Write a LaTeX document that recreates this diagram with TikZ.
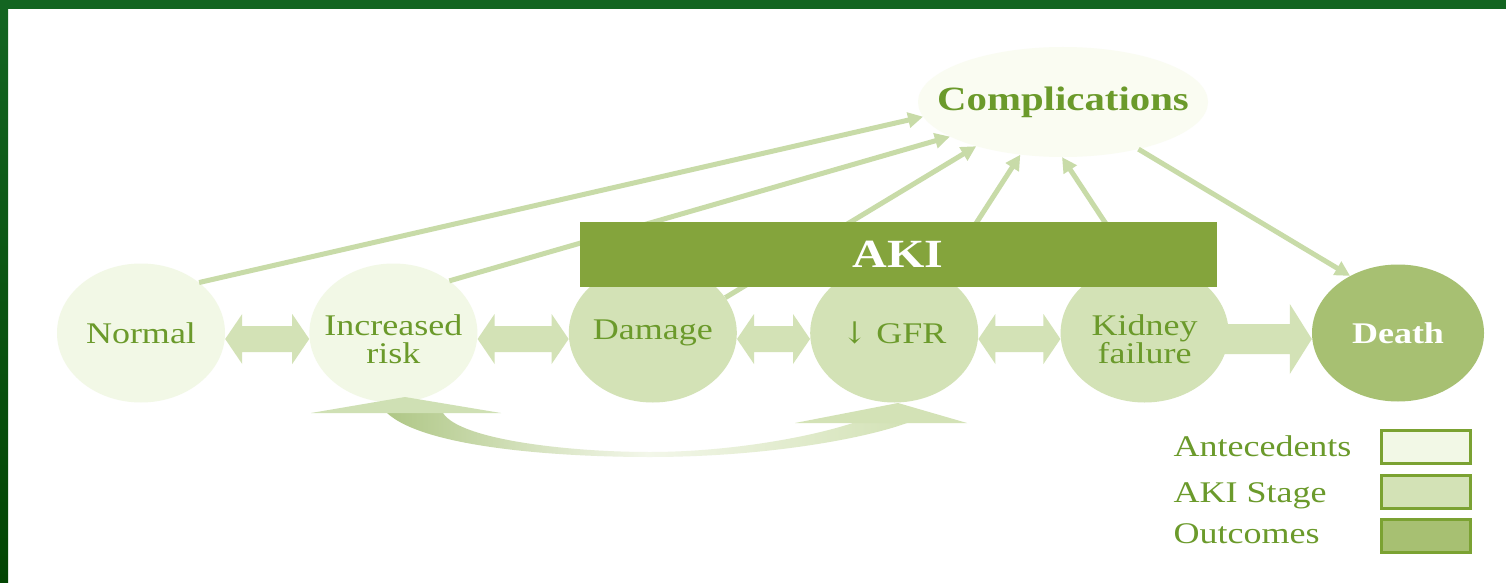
\documentclass[tikz,border=0pt]{standalone}
\usepackage{fontspec}
\setmainfont{Liberation Serif}[FakeStretch=1.2]
\newfontfamily\arrowfont{DejaVu Serif}
\usetikzlibrary{calc,arrows.meta,positioning,shapes.geometric}

\definecolor{antefill}{HTML}{F2F8E6}
\definecolor{stagefill}{HTML}{D3E2B6}
\definecolor{outfill}{HTML}{A7C072}
\definecolor{barfill}{HTML}{84A43C}
\definecolor{complfill}{HTML}{FAFCF2}
\definecolor{labelgreen}{HTML}{6B9A2B}
\definecolor{linkgreen}{HTML}{C8DBA8}
\definecolor{keyedge}{HTML}{7BA232}
\definecolor{tipfill}{HTML}{CFE0B4}
\definecolor{bandleft}{HTML}{AFC786}
\definecolor{bandmid}{HTML}{F3F7EA}
\definecolor{frametop}{HTML}{136521}
\definecolor{framebot}{HTML}{034503}

% fat double arrow between two discs
\newcommand{\dbllink}[2]{%
  \fill[stagefill] let \p1=(#1.east), \p2=(#2.west) in
    (\x1,\y1-6pt) -- (\x1+17pt,\y1+19pt) -- (\x1+17pt,\y1+7pt) -- (\x2-17pt,\y1+7pt)
    -- (\x2-17pt,\y1+19pt) -- (\x2,\y1-6pt) -- (\x2-17pt,\y1-31pt) -- (\x2-17pt,\y1-19pt)
    -- (\x1+17pt,\y1-19pt) -- (\x1+17pt,\y1-31pt) -- cycle;}
% fat single arrow
\newcommand{\onelink}[2]{%
  \fill[stagefill] let \p1=(#1.east), \p2=(#2.west) in
    (\x1-8pt,\y1+9pt) -- (\x2-22pt,\y1+9pt) -- (\x2-22pt,\y1+29pt) -- (\x2,\y1-6pt)
    -- (\x2-22pt,\y1-41pt) -- (\x2-22pt,\y1-21pt) -- (\x1-8pt,\y1-21pt) -- cycle;}

\begin{document}
\begin{tikzpicture}[
    x=1pt, y=-1pt,
    disc/.style={ellipse, inner sep=-30pt, minimum width=168pt, minimum height=139pt, align=center, text=labelgreen, font=\fontsize{30}{29}\selectfont},
    disctext/.style={align=center, text=labelgreen, font=\fontsize{30}{28}\selectfont, yshift=-6pt},
    antedisc/.style={disc, fill=antefill},
    stagedisc/.style={disc, fill=stagefill},
    outdisc/.style={disc, fill=outfill, minimum width=172pt, minimum height=137pt, text=white, font=\fontsize{30}{29}\selectfont\bfseries},
    feed/.style={draw=linkgreen, line width=5pt, -{Triangle[length=15pt,width=15pt]}},
    keybox/.style={draw=keyedge, line width=3pt, minimum width=89pt, minimum height=33pt},
    keylabel/.style={anchor=base west, text=labelgreen, font=\fontsize{30}{30}\selectfont}
]
\useasboundingbox (0,0) rectangle (1506,583);
\fill[white] (0,0) rectangle (1506,583);
% frame
\fill[frametop] (0,0) rectangle (1506,9);
\shade[top color=frametop, bottom color=framebot] (0,0) rectangle (8,583);

% discs
\node[antedisc] (normal) at (141,333) {Normal};
\node[antedisc, right=84pt of normal, label={[disctext]center:Increased\\risk}] (incr) {};
\node[stagedisc, right=91pt of incr] (dmg) {Damage};
\node[stagedisc, right=73pt of dmg] (gfr) {{\arrowfont ↓} GFR};
\node[stagedisc, right=82pt of gfr, label={[disctext]center:Kidney\\failure}] (kid) {};
\node[outdisc, right=83pt of kid] (death) {Death};

\node[ellipse, inner sep=-30pt, fill=complfill, minimum width=290pt, minimum height=110pt, text=labelgreen, font=\fontsize{34}{34}\selectfont\bfseries] (compl) at (1063,102) {Complications};

% fat links
\dbllink{normal}{incr}
\dbllink{incr}{dmg}
\dbllink{dmg}{gfr}
\dbllink{gfr}{kid}
\onelink{kid}{death}

% thin arrows
\draw[feed] (normal.41) -- (compl.186);
\draw[feed] (incr.43) -- (compl.197);
\draw[feed] (dmg.26) -- (compl.207);
\draw[feed] (gfr.50) -- (compl.231);
\draw[feed] (kid.100) -- (compl.269);
\draw[feed] (compl.328) -- (death.130);

% feedback arrow under the discs
\shade[left color=bandleft, right color=stagefill, middle color=bandmid]
  (387,413) .. controls (425,448) and (560,457) .. (650,457)
  .. controls (760,457) and (860,440) .. (907,423)
  -- (853,423) .. controls (800,440) and (720,452) .. (650,452)
  .. controls (570,452) and (460,440) .. (443,413) -- cycle;
\fill[tipfill] (311,413) -- (405,397) -- (501,413) -- cycle;
\fill[stagefill] (795,423) -- (898,403) -- (967,423) -- cycle;

\node[fill=barfill, minimum width=637pt, minimum height=65pt, text=white, font=\fontsize{40}{40}\selectfont\bfseries] (bar) at (898,254) {AKI};

% legend
\node[keybox, fill=antefill] (keyante) at (1426,447) {};
\node[keybox, fill=stagefill] (keystage) at (1426,492) {};
\node[keybox, fill=outfill] (keyout) at (1426,536) {};
\node[keylabel] (labante) at (1170,456) {Antecedents};
\node[keylabel] (labstage) at (1170,502) {AKI Stage};
\node[keylabel] (labout) at (1170,543) {Outcomes};
\end{tikzpicture}
\end{document}
